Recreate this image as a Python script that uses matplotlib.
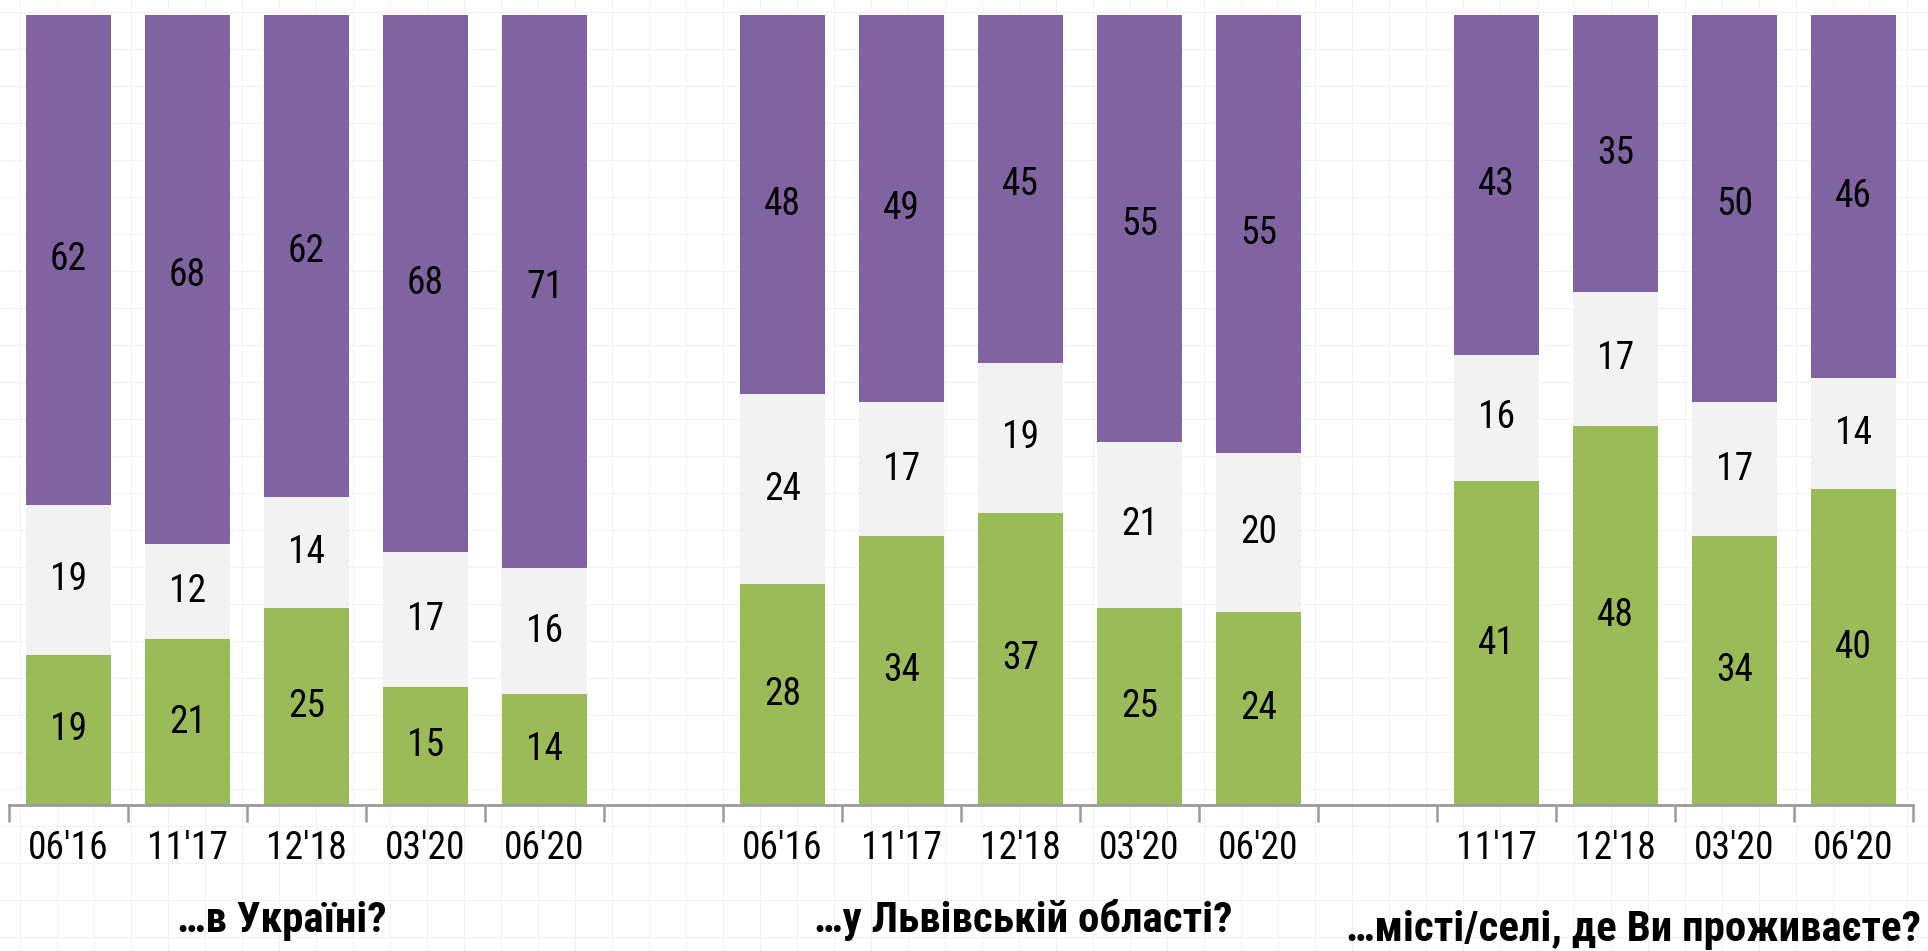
import matplotlib
matplotlib.use("Agg")
import matplotlib.pyplot as plt
from matplotlib import font_manager as fm
import numpy as np

# ---- data ----
categories = ["06'16", "11'17", "12'18", "03'20", "06'20", "",
              "06'16", "11'17", "12'18", "03'20", "06'20", "",
              "11'17", "12'18", "03'20", "06'20"]
# slot positions (0..15); slots 5 and 11 are empty gaps
bar_slots = [0, 1, 2, 3, 4, 6, 7, 8, 9, 10, 12, 13, 14, 15]
green  = [19, 21, 25, 15, 14, 28, 34, 37, 25, 24.4, 41, 48, 34, 40]
gray   = [19, 12, 14, 17, 16, 24, 17, 19, 21, 20.2, 16, 17, 17, 14]
purple = [62, 68, 62, 68, 71, 48, 49, 45, 55, 55.4, 43, 35, 50, 46]
group_titles = ["…в Україні?", "…у Львівській області?", "…місті/селі, де Ви проживаєте?"]

C_GREEN = "#9BBB59"
C_GRAY = "#F2F2F2"
C_PURPLE = "#8064A2"

# look for a condensed/narrow face
names = {f.name for f in fm.fontManager.ttflist}
narrow = None
for cand in ["Liberation Sans Narrow", "Arial Narrow", "Roboto Condensed",
             "Open Sans Condensed", "Noto Sans Condensed", "DejaVu Sans Condensed"]:
    if cand in names:
        narrow = cand
        break
stretch = "normal"
if narrow is None:
    for f in fm.fontManager.ttflist:
        if f.name == "DejaVu Sans" and str(f.stretch) in ("condensed", "semi-condensed"):
            narrow = "DejaVu Sans"
            stretch = "condensed"
            break
FONT = ([narrow] if narrow else []) + ["Liberation Sans", "DejaVu Sans"]
plt.rcParams["font.family"] = FONT
plt.rcParams["font.stretch"] = stretch

W, H = 1928, 951
fig = plt.figure(figsize=(W / 100, H / 100), dpi=100)
fig.patch.set_facecolor("white")

# faint background texture grid
bg = fig.add_axes([0, 0, 1, 1], zorder=-5)
bg.set_xlim(0, W)
bg.set_ylim(H, 0)
bg.axis("off")
for xv in np.arange(20, W, 37):
    bg.axvline(xv, color="#f2f2f2", lw=0.8)
for yv in np.arange(12, H, 37):
    bg.axhline(yv, color="#f2f2f2", lw=0.8)

left, right = 9 / W, 1913 / W
bottom, top = 1 - 805 / H, 1 - 15 / H
ax = fig.add_axes([left, bottom, right - left, top - bottom])
ax.patch.set_alpha(0)

x = np.array(bar_slots) + 0.5
g = np.array(green, dtype=float)
s = np.array(gray, dtype=float)
p = np.array(purple, dtype=float)
bw = 0.715
ax.bar(x, g, width=bw, color=C_GREEN, linewidth=0)
ax.bar(x, s, width=bw, bottom=g, color=C_GRAY, linewidth=0)
ax.bar(x, p, width=bw, bottom=g + s, color=C_PURPLE, linewidth=0)

ax.set_xlim(0, 16)
ax.set_ylim(0, 100)

lab_fs = 27 if narrow else 25
title_fs = 31 if narrow else 27
for xi, gi, si, pi in zip(x, g, s, p):
    ax.text(xi, gi / 2, f"{round(gi)}", ha="center", va="center", fontsize=lab_fs, color="black")
    ax.text(xi, gi + si / 2, f"{round(si)}", ha="center", va="center", fontsize=lab_fs, color="black")
    ax.text(xi, gi + si + pi / 2, f"{round(pi)}", ha="center", va="center", fontsize=lab_fs, color="black")

for sp in ["top", "right", "left"]:
    ax.spines[sp].set_visible(False)
ax.spines["bottom"].set_color("#9a9a9a")
ax.spines["bottom"].set_linewidth(2)
ax.set_yticks([])
ax.set_xticks(np.arange(0, 17))
ax.set_xticklabels([])
ax.tick_params(axis="x", which="major", direction="out", length=12, width=1.8, color="#9a9a9a")
ax.set_xticks(np.arange(16) + 0.5, minor=True)
ax.set_xticklabels(categories, minor=True, fontsize=lab_fs)
ax.tick_params(axis="x", which="minor", length=0, pad=18)

# group titles (pixel positions of the reference layout)
title_px = [(282, 932, "center"), (1023, 932, "center"), (1921, 941, "right")]
for (px, py, ha), t in zip(title_px, group_titles):
    fig.text(px / W, 1 - py / H, t, ha=ha, va="baseline", fontsize=title_fs, fontweight="bold")

fig.savefig("out.png", dpi=100, facecolor="white")
